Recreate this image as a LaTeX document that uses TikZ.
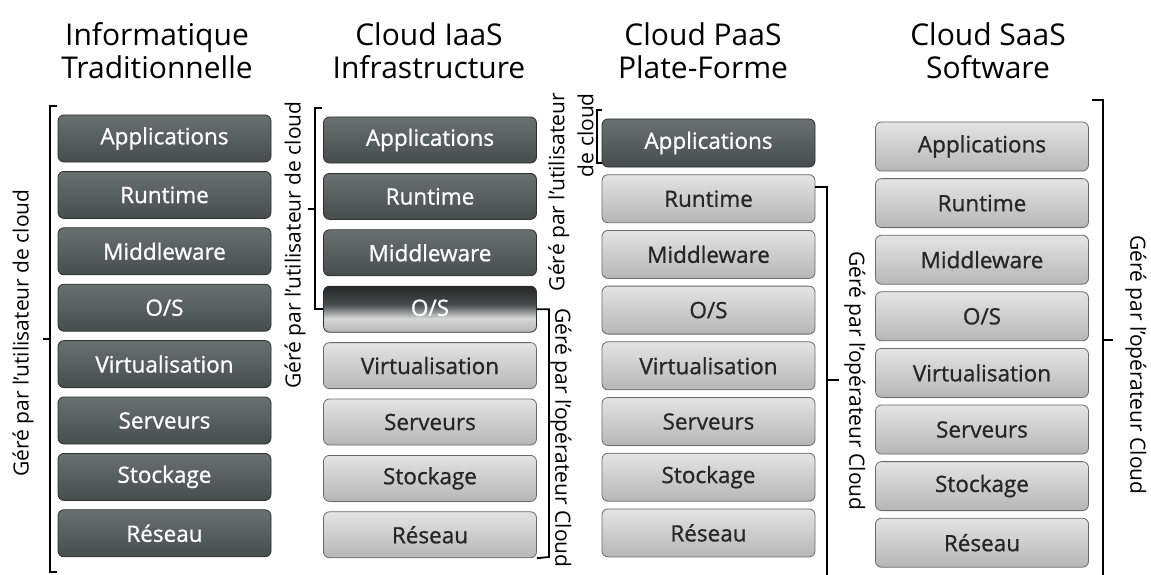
\documentclass[tikz,border=0pt]{standalone}
\usepackage{fontspec}
\setmainfont{Open Sans}
\newfontfamily\layerfont[FakeBold=0.9]{Open Sans}
\usetikzlibrary{calc}

\definecolor{dkTop}{HTML}{6A7070}
\definecolor{dkBot}{HTML}{474C4D}
\definecolor{ltTop}{HTML}{E4E4E4}
\definecolor{ltBot}{HTML}{B6B6B6}
\definecolor{edgeDk}{HTML}{2C3030}
\definecolor{edgeLt}{HTML}{6A6A6A}

% O/S layer of the IaaS stack: dark on top, fading to light below
\pgfdeclareverticalshading{osfade}{100bp}{%
  color(0bp)=(ltBot); color(25bp)=(ltBot); color(40bp)=(ltTop!70!ltBot);
  color(55bp)=(dkBot); color(75bp)=(black!85); color(100bp)=(black!85)}

\def\OS{O/S}

\tikzset{
  layer/.style={rounded corners=6pt, minimum width=213pt, inner sep=0pt,
    font=\layerfont\fontsize{22.5}{24}\selectfont, line width=0.8pt},
  layerdark/.style={layer, draw=edgeDk, top color=dkTop, bottom color=dkBot, text=white},
  layerlight/.style={layer, draw=edgeLt, top color=ltTop, bottom color=ltBot, text=black!85},
  layermix/.style={layer, draw=edgeDk, shade, shading=osfade, text=white},
  brace/.style={line width=1.8pt, black},
  sidelabel/.style={font=\fontsize{21}{29}\selectfont, inner sep=0pt},
  title/.style={font=\fontsize{30}{33}\selectfont, align=center, inner sep=0pt},
}

\begin{document}
\begin{tikzpicture}[x=1pt, y=-1pt]
\useasboundingbox (0,0) rectangle (1151,575);
\fill[white] (0,0) rectangle (1151,575);

% column titles (anchored on the baseline of the second line)
\node[title, anchor=base] (h1) at (157,79) {Informatique\\Traditionnelle};
\node[title, anchor=base] (h2) at (429,79) {Cloud IaaS\\Infrastructure};
\node[title, anchor=base] (h3) at (703,79) {Cloud PaaS\\Plate-Forme};
\node[title, anchor=base] (h4) at (988,79) {Cloud SaaS\\Software};

% traditional IT: everything managed by the user
\foreach \t/\s [count=\i] in {Applications/layerdark, Runtime/layerdark,
    Middleware/layerdark, \OS/layerdark, Virtualisation/layerdark,
    Serveurs/layerdark, Stockage/layerdark, Réseau/layerdark}
  \node[\s, minimum height=47pt] (t\i) at (164.5, {138.5+(\i-1)*56.4}) {\t};

% IaaS
\foreach \t/\s [count=\i] in {Applications/layerdark, Runtime/layerdark,
    Middleware/layerdark, \raisebox{3pt}{\OS}/layermix, Virtualisation/layerlight,
    Serveurs/layerlight, Stockage/layerlight, Réseau/layerlight}
  \node[\s, minimum height=46pt] (i\i) at (430, {140+(\i-1)*56.4}) {\t};

% PaaS
\foreach \t/\s [count=\i] in {Applications/layerdark, Runtime/layerlight,
    Middleware/layerlight, \OS/layerlight, Virtualisation/layerlight,
    Serveurs/layerlight, Stockage/layerlight, Réseau/layerlight}
  \node[\s, minimum height=48pt] (p\i) at (708.5, {143+(\i-1)*55.7}) {\t};

% SaaS
\foreach \t/\s [count=\i] in {Applications/layerlight, Runtime/layerlight,
    Middleware/layerlight, \OS/layerlight, Virtualisation/layerlight,
    Serveurs/layerlight, Stockage/layerlight, Réseau/layerlight}
  \node[\s, minimum height=49pt] (s\i) at (982, {146.5+(\i-1)*56.6}) {\t};

% brackets
\draw[brace] (57,106) -- (50,106) -- (50,572) -- (57,572);
\draw[brace] (50,339) -- (43,339);

\draw[brace] (322,108) -- (315,108) |- (i4.west);
\draw[brace] (315,209) -- (308,209);
\draw[brace] (i4.east) -| (549,557) -- (i8.south east);

\draw[brace] (602,110) -- (597,110) -- (597,163) -- (602,163);
\draw[brace] ($(p2.east)+(0,-12)$) -| (827,575);
\draw[brace] (827,380) -- (839,380);

\draw[brace] (1092,100) -- (1103,100) -- (1103,575);
\draw[brace] (1103,340) -- (1113,340);

% responsibility labels
\node[sidelabel, rotate=90] (u1) at (23,333) {Géré par l'utilisateur de cloud};
\node[sidelabel, rotate=90] (u2) at (295,245) {Géré par l'utilisateur de cloud};
\node[sidelabel, rotate=90, align=right, anchor=east] (u3) at (571,93) {Géré par l'utilisateur\\de cloud};
\node[sidelabel, rotate=-90] (o2) at (561,438) {Géré par l'opérateur Cloud};
\node[sidelabel, rotate=-90] (o3) at (855,381) {Géré par l'opérateur Cloud};
\node[sidelabel, rotate=-90] (o4) at (1136,365) {Géré par l'opérateur Cloud};
\end{tikzpicture}
\end{document}
